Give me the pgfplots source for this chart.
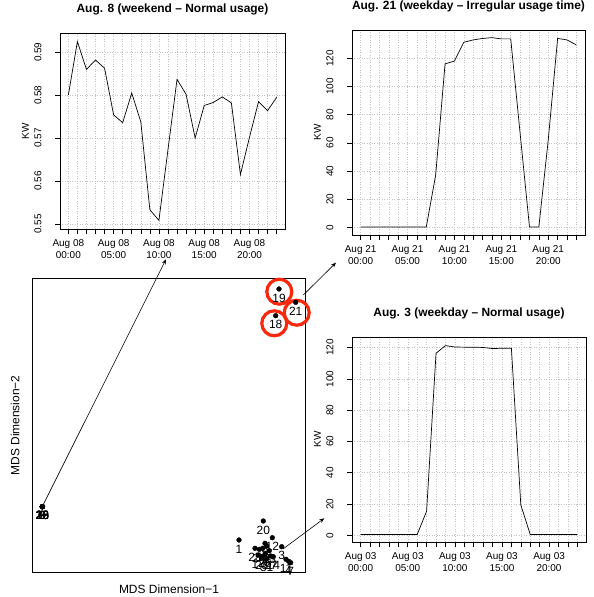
\documentclass[border=0pt]{standalone}
\usepackage{fontspec}
\setmainfont{Liberation Sans}
\usepackage{pgfplots}
\pgfplotsset{compat=1.18}
\usetikzlibrary{arrows.meta}
\definecolor{gridgray}{RGB}{195,195,195}
\definecolor{ringred}{RGB}{248,40,12}

\pgfplotsset{
  tsplot/.style={
    scale only axis,
    xmin=-0.92, xmax=23.92,
    xtick={0,5,10,15,20},
    minor xtick={0,...,23},
    xmajorgrids, xminorgrids, ymajorgrids,
    grid style={gridgray, line width=0.5pt, dash pattern=on 1pt off 1.5pt},
    minor grid style={gridgray, line width=0.5pt, dash pattern=on 1pt off 1.5pt},
    tick align=outside, tick pos=left,
    major tick length=5bp, minor tick length=5bp,
    every tick/.style={black, line width=0.6pt},
    axis line style={line width=0.7pt},
    xticklabel style={align=center, inner sep=0pt, anchor=north, yshift=-5bp,
      font=\fontsize{10}{12.5}\selectfont},
    yticklabel style={rotate=90, inner sep=0pt, anchor=center, yshift=17bp,
      font=\fontsize{10}{12}\selectfont},
    ylabel={KW},
    ylabel style={at={(axis description cs:0,0.5)}, anchor=center, yshift=34.5bp,
      font=\fontsize{10}{12}\selectfont},
    title style={at={(axis description cs:0.5,1)}, anchor=center, yshift=18bp,
      font=\bfseries\fontsize{12}{14}\selectfont},
    /pgf/number format/assume math mode=true,
  }
}

\begin{document}
\begin{tikzpicture}
\useasboundingbox (0,0) rectangle (594bp,597bp);

% Aug 8
\begin{axis}[tsplot, at={(60bp,368bp)}, anchor=south west,
  width=225bp, height=196bp,
  ymin=0.5488, ymax=0.5945,
  ytick={0.55,0.56,0.57,0.58,0.59},
  yticklabel style={/pgf/number format/.cd, fixed, fixed zerofill, precision=2},
  xticklabels={{Aug 08\\00:00},{Aug 08\\05:00},{Aug 08\\10:00},{Aug 08\\15:00},{Aug 08\\20:00}},
  title={Aug. 8 (weekend – Normal usage)}]
\addplot[black, line width=0.7pt, mark=none] coordinates {
  (0,0.5800) (1,0.5925) (2,0.5860) (3,0.5882) (4,0.5863) (5,0.5754)
  (6,0.5736) (7,0.5805) (8,0.5738) (9,0.5533) (10,0.5508) (11,0.5673)
  (12,0.5837) (13,0.5802) (14,0.5700) (15,0.5776) (16,0.5783) (17,0.5796)
  (18,0.5782) (19,0.5615) (20,0.5702) (21,0.5785) (22,0.5764) (23,0.5795)};
\end{axis}

% Aug 21
\begin{axis}[tsplot, at={(352bp,362bp)}, anchor=south west,
  width=233bp, height=205bp,
  ymin=-5.2, ymax=140,
  ytick={0,20,40,60,80,100,120},
  xticklabels={{Aug 21\\00:00},{Aug 21\\05:00},{Aug 21\\10:00},{Aug 21\\15:00},{Aug 21\\20:00}},
  title={Aug. 21 (weekday – Irregular usage time)}]
\addplot[black, line width=0.7pt, mark=none] coordinates {
  (0,0.5) (1,0.5) (2,0.5) (3,0.5) (4,0.5) (5,0.5) (6,0.5) (7,0.5)
  (8,37.3) (9,116) (10,118) (11,131.3) (12,133) (13,134) (14,134.6)
  (15,133.7) (16,133.7) (17,67) (18,0.5) (19,0.5) (20,62) (21,134)
  (22,133) (23,129.4)};
\end{axis}

% Aug 3
\begin{axis}[tsplot, at={(352bp,55bp)}, anchor=south west,
  width=234bp, height=205bp,
  ymin=-4.3, ymax=126.8,
  ytick={0,20,40,60,80,100,120},
  xticklabels={{Aug 03\\00:00},{Aug 03\\05:00},{Aug 03\\10:00},{Aug 03\\15:00},{Aug 03\\20:00}},
  title={Aug. 3 (weekday – Normal usage)}]
\addplot[black, line width=0.7pt, mark=none] coordinates {
  (0,0.5) (1,0.5) (2,0.5) (3,0.5) (4,0.5) (5,0.5) (6,0.5) (7,15.4)
  (8,116.4) (9,121.3) (10,120.4) (11,120.3) (12,120.3) (13,120.1)
  (14,119.4) (15,119.6) (16,119.6) (17,19.4) (18,0.5) (19,0.5)
  (20,0.5) (21,0.5) (22,0.5) (23,0.5)};
\end{axis}

% MDS map
\begin{axis}[scale only axis, at={(32.3bp,24.3bp)}, anchor=south west,
  width=273.4bp, height=294.4bp,
  xmin=-1.677, xmax=1.057, ymin=-1.727, ymax=1.217,
  xtick=\empty, ytick=\empty, clip=false,
  axis line style={line width=0.7pt},
  xlabel={MDS Dimension−1}, ylabel={MDS Dimension−2},
  xlabel style={at={(axis description cs:0.5,0)}, anchor=center, yshift=-16.6bp,
    font=\fontsize{12}{14}\selectfont},
  ylabel style={at={(axis description cs:0,0.5)}, anchor=center, yshift=17.3bp,
    font=\fontsize{12}{14}\selectfont}]
\addplot[only marks, mark=*, mark size=2.4pt, black,
  nodes near coords, point meta=explicit symbolic,
  every node near coord/.append style={anchor=north, inner sep=0pt, yshift=-4.6bp,
    font=\fontsize{12}{12}\selectfont, black}]
  table[meta=day] {
x       y       day
-1.577  -1.067  2
-1.575  -1.066  8
-1.578  -1.068  9
-1.576  -1.067  15
-1.577  -1.066  16
-1.578  -1.067  22
-1.576  -1.068  23
-1.577  -1.067  29
-1.575  -1.067  30
0.790   1.110   19
0.957   0.977   21
0.757   0.843   18
0.633   -1.210  20
0.390   -1.400  1
0.723   -1.377  12
0.817   -1.467  3
0.860   -1.593  11
0.887   -1.613  4
0.907   -1.627  7
0.650   -1.433  5
0.667   -1.460  6
0.627   -1.483  10
0.693   -1.507  13
0.593   -1.493  24
0.550   -1.483  25
0.650   -1.540  26
0.707   -1.560  27
0.617   -1.567  28
0.667   -1.587  31
0.583   -1.550  17
0.733   -1.567  14
};
\coordinate (s1) at (axis cs:-1.577,-1.065);
\coordinate (s2) at (axis cs:1.033,1.050);
\coordinate (s3) at (axis cs:0.830,-1.490);
\draw[ringred, line width=3.2bp] (axis cs:0.793,1.083) circle[radius=12.5bp];
\draw[ringred, line width=3.2bp] (axis cs:0.967,0.873) circle[radius=12.5bp];
\draw[ringred, line width=3.2bp] (axis cs:0.743,0.767) circle[radius=12.5bp];
\end{axis}

\draw[black, line width=0.6pt, -{Stealth[length=5bp,width=4bp]}] (s1) -- (166bp,337.7bp);
\draw[black, line width=0.6pt, -{Stealth[length=5bp,width=4bp]}] (s2) -- (336bp,334.3bp);
\draw[black, line width=0.6pt, -{Stealth[length=5bp,width=4bp]}] (s3) -- (324.3bp,78.7bp);
\end{tikzpicture}
\end{document}
